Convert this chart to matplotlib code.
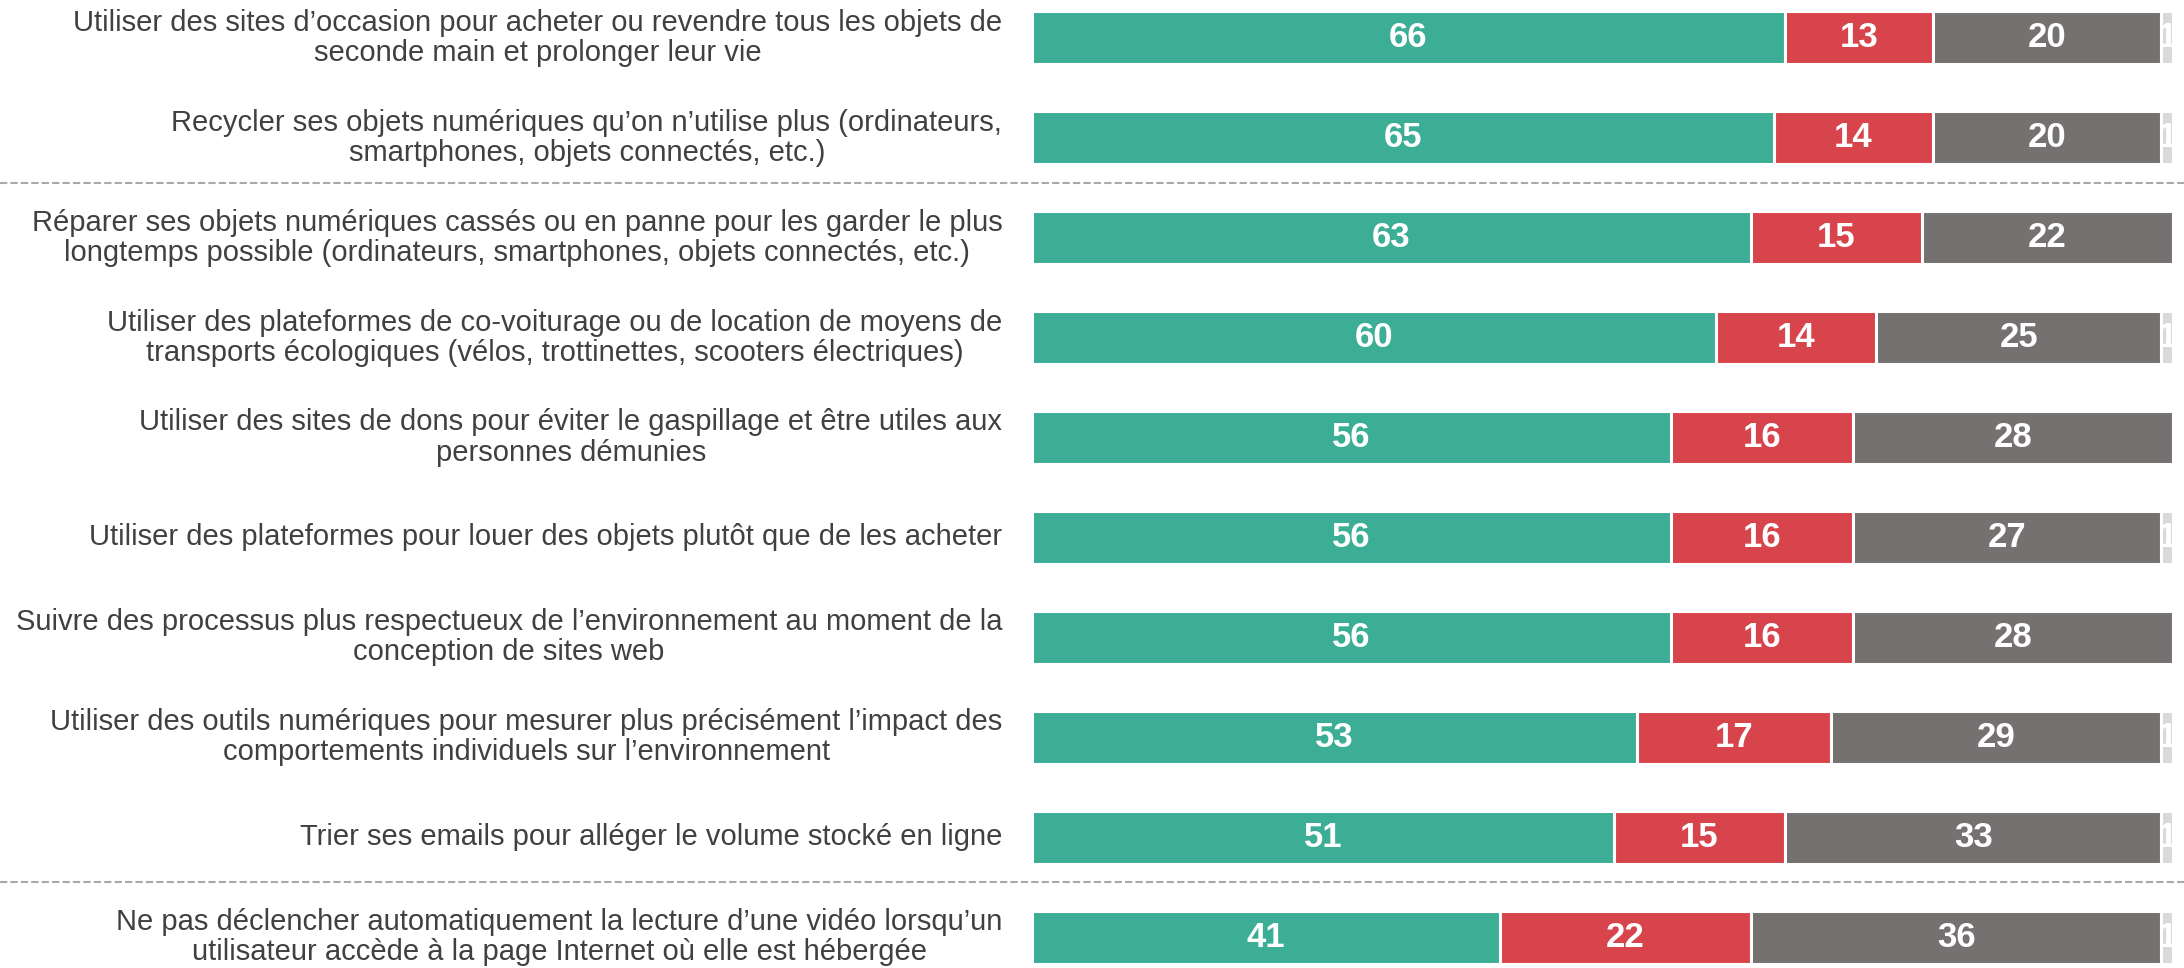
import matplotlib
matplotlib.use('Agg')
import matplotlib.pyplot as plt
import matplotlib.transforms as mtransforms
import numpy as np

plt.rcParams['font.family'] = ['Liberation Sans', 'DejaVu Sans']

# Data
labels = [
    "Utiliser des sites d’occasion pour acheter ou revendre tous les objets de\nseconde main et prolonger leur vie",
    "Recycler ses objets numériques qu’on n’utilise plus (ordinateurs,\nsmartphones, objets connectés, etc.)",
    "Réparer ses objets numériques cassés ou en panne pour les garder le plus\nlongtemps possible (ordinateurs, smartphones, objets connectés, etc.)",
    "Utiliser des plateformes de co-voiturage ou de location de moyens de\ntransports écologiques (vélos, trottinettes, scooters électriques)",
    "Utiliser des sites de dons pour éviter le gaspillage et être utiles aux\npersonnes démunies",
    "Utiliser des plateformes pour louer des objets plutôt que de les acheter",
    "Suivre des processus plus respectueux de l’environnement au moment de la\nconception de sites web",
    "Utiliser des outils numériques pour mesurer plus précisément l’impact des\ncomportements individuels sur l’environnement",
    "Trier ses emails pour alléger le volume stocké en ligne",
    "Ne pas déclencher automatiquement la lecture d’une vidéo lorsqu’un\nutilisateur accède à la page Internet où elle est hébergée",
]
vals_green = [66, 65, 63, 60, 56, 56, 56, 53, 51, 41]
vals_red = [13, 14, 15, 14, 16, 16, 16, 17, 15, 22]
vals_grey = [20, 20, 22, 25, 28, 27, 28, 29, 33, 36]
vals_light = [1, 1, 0, 1, 0, 1, 0, 1, 1, 1]
separators = [1.45, 8.45]

colors = ['#3dae96', '#d8444c', '#767171', '#d9d9d9']

fig = plt.figure(figsize=(21.84, 9.68), dpi=100)
ax = fig.add_axes([0.4725, 0.0, 0.5224, 1.0])

y = np.arange(len(labels))
left = np.zeros(len(labels))
for series, col in zip([vals_green, vals_red, vals_grey, vals_light], colors):
    series = np.array(series, dtype=float)
    ax.barh(y, series, left=left, height=0.53, color=col,
            edgecolor='white', linewidth=2.2)
    for yi, l, v in zip(y, left, series):
        if v > 0:
            ax.text(l + v / 2, yi, f"{int(v)}", ha='center', va='center',
                    color='white', fontsize=25, fontweight='bold')
    left += series

ax.set_xlim(0, 100)
ax.set_ylim(9.31, -0.38)
ax.axis('off')

for yi, lab in zip(y, labels):
    ax.text(-2.6, yi, lab, ha='right', va='center', multialignment='center',
            fontsize=21, color='#404040', clip_on=False, linespacing=1.1)

trans = mtransforms.blended_transform_factory(fig.transFigure, ax.transData)
for s in separators:
    line, = ax.plot([0, 1], [s, s], transform=trans, color='#a9a9a9',
                    linewidth=1.5, clip_on=False)
    line.set_dashes((3.5, 1.5))

fig.savefig('out.png', dpi=100)
